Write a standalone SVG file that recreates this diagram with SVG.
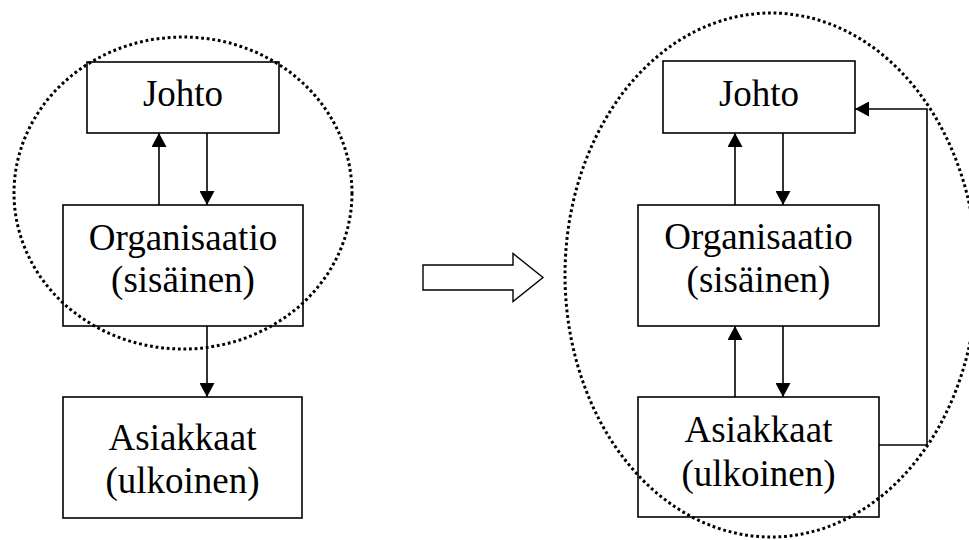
<svg xmlns="http://www.w3.org/2000/svg" width="969" height="540" viewBox="0 0 969 540">
<style>
.box{fill:#fff;stroke:#000;stroke-width:1.6}
.lbl{font-family:"Liberation Serif","Times New Roman",serif;font-size:37px;fill:#000;text-anchor:middle}
.con{fill:none;stroke:#000;stroke-width:1.6}
.dot{fill:none;stroke:#000;stroke-width:3;stroke-dasharray:2.8 2.8}
</style>
<defs>
<marker id="ah" markerUnits="userSpaceOnUse" markerWidth="15" markerHeight="15" refX="14" refY="7.5" orient="auto">
<path d="M0,0 L14,7.5 L0,15 z" fill="#000"/>
</marker>
</defs>
<rect width="969" height="540" fill="#fff"/>
<g id="left-johto"><rect class="box" x="87" y="62" width="192" height="71"/><text class="lbl" x="183" y="106">Johto</text></g>
<g id="left-org"><rect class="box" x="63" y="205" width="240" height="121"/><text class="lbl" x="183" y="250">Organisaatio</text><text class="lbl" x="183" y="292">(sisäinen)</text></g>
<g id="left-asiakkaat"><rect class="box" x="63" y="397" width="239" height="121"/><text class="lbl" x="182.5" y="450">Asiakkaat</text><text class="lbl" x="182.5" y="493">(ulkoinen)</text></g>
<g id="right-johto"><rect class="box" x="663" y="61" width="192" height="72"/><text class="lbl" x="759" y="106">Johto</text></g>
<g id="right-org"><rect class="box" x="638" y="205" width="241" height="121"/><text class="lbl" x="758.5" y="249">Organisaatio</text><text class="lbl" x="758.5" y="292">(sisäinen)</text></g>
<g id="right-asiakkaat"><rect class="box" x="638" y="397" width="241" height="120"/><text class="lbl" x="758.5" y="442">Asiakkaat</text><text class="lbl" x="758.5" y="486">(ulkoinen)</text></g>
<g id="transition"><path d="M423,265 H513 V253.5 L543,277.5 L513,301.5 V290 H423 Z" fill="#fff" stroke="#000" stroke-width="1.4"/></g>
<g id="connectors">
<line class="con" x1="159" y1="205" x2="159" y2="133" marker-end="url(#ah)"/>
<line class="con" x1="207" y1="133" x2="207" y2="205" marker-end="url(#ah)"/>
<line class="con" x1="207" y1="326" x2="207" y2="397" marker-end="url(#ah)"/>
<line class="con" x1="735" y1="205" x2="735" y2="133" marker-end="url(#ah)"/>
<line class="con" x1="783" y1="133" x2="783" y2="205" marker-end="url(#ah)"/>
<line class="con" x1="735" y1="397" x2="735" y2="326" marker-end="url(#ah)"/>
<line class="con" x1="783" y1="326" x2="783" y2="397" marker-end="url(#ah)"/>
<path class="con" d="M879,445 H927 V109 H855" marker-end="url(#ah)"/>
</g>
<g id="boundaries">
<ellipse class="dot" cx="183" cy="193" rx="169" ry="156"/>
<ellipse class="dot" cx="771" cy="275" rx="206" ry="262"/>
</g>
</svg>
